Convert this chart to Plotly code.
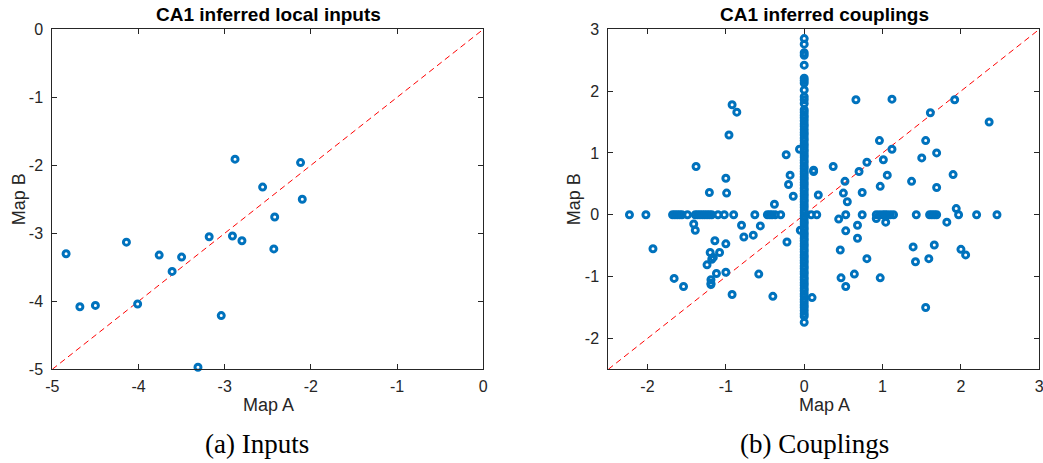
import plotly.graph_objects as go

# ---------------- data ----------------
# (a) CA1 inferred local inputs
inputs_a = [-4.84, -4.68, -4.50, -4.14, -4.01, -3.76, -3.61, -3.50, -3.31, -3.18,
            -3.04, -2.91, -2.88, -2.80, -2.56, -2.43, -2.42, -2.12, -2.10]
inputs_b = [-3.30, -4.08, -4.06, -3.13, -4.04, -3.32, -3.56, -3.35, -4.97, -3.05,
            -4.21, -3.04, -1.91, -3.11, -2.32, -3.23, -2.76, -1.96, -2.50]

# (b) CA1 inferred couplings
# couplings zero in map B (row on y = 0)
row_a = [-2.23, -2.02, -1.68, -1.65, -1.62, -1.59, -1.56, -1.49, -1.39, -1.36,
         -1.33, -1.30, -1.27, -1.24, -1.21, -1.18, -1.10, -1.02, -0.90, -0.63,
         -0.47, -0.44, -0.41, -0.37, -0.30, 0.09, 0.16, 0.53, 0.74, 0.92,
         0.96, 1.00, 1.03, 1.06, 1.10, 1.14, 1.43, 1.60, 1.63, 1.66,
         1.69, 1.97, 2.20, 2.46]
# couplings zero in map A (column on x = 0)
col_b = [2.85, 2.76, 2.62, 2.58, 2.42, 2.21, 2.17, 2.13, 2.02, 1.91,
         1.86, 1.80, 1.70, 1.66, 1.61, 1.57, 1.52, 1.47, 1.43, 1.38,
         1.33, 1.29, 1.24, 1.20, 1.15, 1.11, 1.06, 1.02, 0.97, 0.93,
         0.88, 0.84, 0.79, 0.75, 0.70, 0.66, 0.61, 0.57, 0.52, 0.48,
         0.43, 0.39, 0.34, 0.30, 0.25, 0.21, 0.16, 0.12, 0.07, 0.03,
         -0.02, -0.06, -0.11, -0.15, -0.20, -0.24, -0.29, -0.33, -0.38, -0.42,
         -0.47, -0.51, -0.56, -0.60, -0.65, -0.69, -0.74, -0.78, -0.83, -0.87,
         -0.92, -0.96, -1.01, -1.05, -1.10, -1.14, -1.19, -1.23, -1.28, -1.32,
         -1.37, -1.41, -1.46, -1.50, -1.55, -1.60, -1.64, -1.74]
# couplings non-zero in both maps
both_a = [-1.93, -1.66, -1.54, -1.38, -1.41, -1.39, -1.21, -1.14, -1.20, -1.08,
          -1.16, -1.18, -1.24, -1.12, -1.00, -1.19, -1.19, -1.19, -1.00, -0.99,
          -0.96, -0.92, -0.86, -1.00, -0.92, -0.80, -0.77, -0.65, -0.56, -0.58,
          -0.40, -0.38, -0.23, -0.18, -0.20, -0.14, -0.22, -0.06, 0.12, 0.12,
          -0.05, 0.10, 0.18,
          0.37, 0.44, 0.46, 0.47, 0.50, 0.52, 0.53, 0.55, 0.53, 0.64,
          0.66, 0.68, 0.68, 0.70, 0.74, 0.80, 0.80, 0.92, 0.96, 0.97,
          0.97, 1.01, 1.04, 1.06, 1.12, 1.12, 1.37, 1.39, 1.42, 1.50,
          1.55, 1.55, 1.59, 1.61, 1.66, 1.69, 1.69, 1.82, 1.90, 1.92,
          1.94, 2.00, 2.06, 2.36]
both_b = [-0.55, -1.03, -1.16, 0.78, -0.15, -0.25, 0.36, -0.42, -0.61, -0.61,
          -0.69, -0.72, -0.81, -0.95, -0.93, -1.05, -1.11, -1.13, 0.59, 0.35,
          1.29, 1.78, 1.66, -0.47, -1.29, -0.17, -0.36, -0.33, -0.18, -0.96,
          -1.32, 0.17, 0.97, 0.64, 0.49, 0.30, -0.44, 1.06, 0.72, 0.70,
          -0.25, -1.34, 0.32,
          0.78, -0.07, -0.57, -1.02, 0.35, 0.54, -0.26, 0.21, -1.16, -0.96,
          1.86, -0.17, -0.38, 0.70, 0.36, 0.85, -0.71, -0.06, 1.20, 0.46,
          -1.02, 0.89, -0.12, 0.64, 1.87, 1.06, 0.54, -0.52, -0.76, 0.92,
          1.20, -1.50, -0.71, 1.65, -0.49, 1.00, 0.44, -0.12, 0.65, 1.86,
          0.10, -0.56, -0.65, 1.50]

diag_left = [-5, 0]
diag_right = [-2.5, 3]

coup_a = row_a + [0.0] * len(col_b) + both_a
coup_b = [0.0] * len(row_a) + col_b + both_b

# ---------------- styling ----------------
BLUE = "#0072BD"
AXC = "#262626"
marker = dict(symbol="circle-open", size=6, color=BLUE, line=dict(width=3, color=BLUE))
dashline = dict(color="#FF0000", width=1, dash="6px,4px")

fig = go.Figure()
fig.add_trace(go.Scatter(x=diag_left, y=diag_left, mode="lines", line=dashline,
                         xaxis="x", yaxis="y", showlegend=False, hoverinfo="skip"))
fig.add_trace(go.Scatter(x=inputs_a, y=inputs_b, mode="markers", marker=marker,
                         xaxis="x", yaxis="y", showlegend=False, cliponaxis=False))
fig.add_trace(go.Scatter(x=diag_right, y=diag_right, mode="lines", line=dashline,
                         xaxis="x2", yaxis="y2", showlegend=False, hoverinfo="skip"))
fig.add_trace(go.Scatter(x=coup_a, y=coup_b, mode="markers", marker=marker,
                         xaxis="x2", yaxis="y2", showlegend=False, cliponaxis=False))

W, H = 1043, 463
ydom = [1 - 369.3 / H, 1 - 29.3 / H]
FONT = "Liberation Sans, Arial, sans-serif"
axis_common = dict(showline=True, linecolor=AXC, linewidth=1, mirror="ticks",
                   ticks="inside", ticklen=5, tickcolor=AXC, tickwidth=1,
                   showgrid=False, zeroline=False, automargin=False,
                   ticklabeloverflow="allow",
                   tickfont=dict(family=FONT, size=16, color=AXC))

fig.update_layout(
    width=W, height=H, margin=dict(l=0, r=0, t=0, b=0),
    paper_bgcolor="white", plot_bgcolor="white",
    xaxis=dict(domain=[52.3 / W, 483.3 / W], range=[-5, 0], tickvals=[-5, -4, -3, -2, -1, 0],
               ticktext=["-5", "-4", "-3", "-2", "-1", "0"], anchor="y",
               ticklabelstandoff=2, **axis_common),
    yaxis=dict(domain=ydom, range=[-5, 0], tickvals=[-5, -4, -3, -2, -1, 0],
               ticktext=["-5", "-4", "-3", "-2", "-1", "0"], anchor="x",
               ticklabelstandoff=5, **axis_common),
    xaxis2=dict(domain=[608.3 / W, 1039.3 / W], range=[-2.5, 3], tickvals=[-2, -1, 0, 1, 2, 3],
                ticktext=["-2", "-1", "0", "1", "2", "3"], anchor="y2",
                ticklabelstandoff=2, **axis_common),
    yaxis2=dict(domain=ydom, range=[-2.5, 3], tickvals=[-2, -1, 0, 1, 2, 3],
                ticktext=["-2", "-1", "0", "1", "2", "3"], anchor="x2",
                ticklabelstandoff=5, **axis_common),
)

title_font = dict(family=FONT, size=19, color="black")
label_font = dict(family=FONT, size=18, color=AXC)
cap_font = dict(family="Liberation Serif, DejaVu Serif, serif", size=27, color="black")
ymid = 1 - 199.3 / H
anns = [
    dict(text="<b>CA1 inferred local inputs</b>", x=268 / W, y=1 - 14.5 / H, font=title_font),
    dict(text="<b>CA1 inferred couplings</b>", x=824 / W, y=1 - 14.5 / H, font=title_font),
    dict(text="Map A", x=268 / W, y=1 - 405 / H, font=label_font),
    dict(text="Map A", x=824 / W, y=1 - 405 / H, font=label_font),
    dict(text="Map B", x=19 / W, y=ymid, font=label_font, textangle=-90),
    dict(text="Map B", x=574 / W, y=ymid, font=label_font, textangle=-90),
    dict(text="(a) Inputs", x=257 / W, y=1 - 444 / H, font=cap_font),
    dict(text="(b) Couplings", x=814 / W, y=1 - 444 / H, font=cap_font),
]
for a in anns:
    fig.add_annotation(xref="paper", yref="paper", showarrow=False,
                       xanchor="center", yanchor="middle", **a)

fig.write_html("out.html")
